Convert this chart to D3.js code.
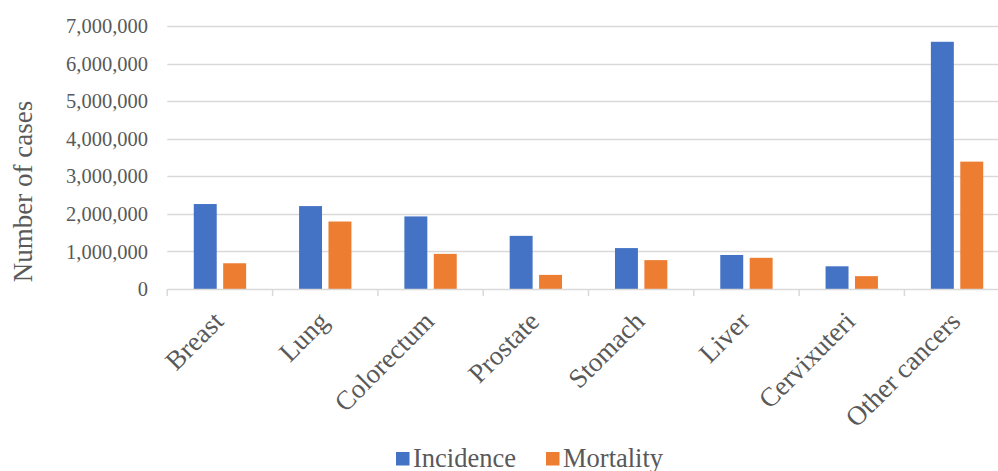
<!DOCTYPE html>
<html>
<head>
<meta charset="utf-8">
<script src="https://cdn.jsdelivr.net/npm/d3@7"></script>
<style>
  html, body { margin: 0; padding: 0; background: #fff; overflow: hidden; }
  svg { display: block; }
</style>
</head>
<body>
<svg id="chart" width="998" height="471"></svg>
<script>
// Cancer sites and their estimated new cases / deaths
const categories = ["Breast", "Lung", "Colorectum", "Prostate", "Stomach", "Liver", "Cervixuteri", "Other cancers"];
const incidence = [2261419, 2206771, 1931590, 1414259, 1089103, 905677, 604127, 6580000];
const mortality = [684996, 1796144, 935173, 375304, 768793, 830180, 341831, 3390000];
const seriesNames = ["Incidence", "Mortality"];
const seriesColors = ["#4472C4", "#ED7D31"];
const yTicks = [0, 1000000, 2000000, 3000000, 4000000, 5000000, 6000000, 7000000];

const FONT = "'Liberation Serif', 'Times New Roman', Tinos, 'DejaVu Serif', serif";
const TEXT_COLOR = "#595959";

const svg = d3.select("#chart");
const plotLeft = 167.3, step = 105.3, plotTop = 26, plotBottom = 289;

const x = d3.scaleBand().domain(categories).range([plotLeft, plotLeft + step * categories.length]).padding(0);
const xs = d3.scaleBand().domain(seriesNames).range([0, x.bandwidth()]).paddingInner(0.22).paddingOuter(0.9);
const y = d3.scaleLinear().domain([0, 7000000]).range([plotBottom, plotTop]);
const color = d3.scaleOrdinal().domain(seriesNames).range(seriesColors);

// Horizontal gridlines
svg.append("g").selectAll("line").data(yTicks.filter(d => d > 0)).join("line")
  .attr("x1", plotLeft).attr("x2", 998)
  .attr("y1", d => Math.round(y(d)) + 0.5).attr("y2", d => Math.round(y(d)) + 0.5)
  .attr("stroke", "#d9d9d9").attr("stroke-width", 1.3);

// Y tick labels
const fmt = d3.format(",");
svg.append("g").selectAll("text").data(yTicks).join("text")
  .attr("x", 148).attr("y", d => y(d)).attr("dy", "0.35em")
  .attr("text-anchor", "end")
  .attr("font-family", FONT).attr("font-size", 20.5).attr("fill", TEXT_COLOR)
  .text(d => fmt(d));

// Bars
const rows = categories.map((c, i) => ({ cat: c, vals: [incidence[i], mortality[i]] }));
const groups = svg.append("g").selectAll("g").data(rows).join("g")
  .attr("transform", d => `translate(${x(d.cat)},0)`);
groups.selectAll("rect").data(d => seriesNames.map((s, j) => ({ s, v: d.vals[j] }))).join("rect")
  .attr("x", d => xs(d.s)).attr("width", xs.bandwidth())
  .attr("y", d => y(d.v)).attr("height", d => y(0) - y(d.v))
  .attr("fill", d => color(d.s));

// X axis line and tick marks
svg.append("line").attr("x1", plotLeft).attr("x2", 998)
  .attr("y1", plotBottom + 0.5).attr("y2", plotBottom + 0.5)
  .attr("stroke", "#d9d9d9").attr("stroke-width", 1.5);
const bounds = categories.map(c => x(c)).concat([x(categories[categories.length - 1]) + x.bandwidth()]);
svg.append("g").selectAll("line").data(bounds).join("line")
  .attr("x1", d => d).attr("x2", d => d)
  .attr("y1", plotBottom).attr("y2", plotBottom + 7)
  .attr("stroke", "#d9d9d9").attr("stroke-width", 1.5);

// Category labels, rotated
svg.append("g").selectAll("text").data(categories).join("text")
  .attr("transform", d => `translate(${x(d) + x.bandwidth() / 2 + 5},${plotBottom + 34}) rotate(-45)`)
  .attr("text-anchor", "end")
  .attr("font-family", FONT).attr("font-size", 27).attr("fill", TEXT_COLOR)
  .text(d => d);

// Y axis title
svg.append("text")
  .attr("transform", `translate(32,${(98 + 285) / 2}) rotate(-90)`)
  .attr("text-anchor", "middle")
  .attr("font-family", FONT).attr("font-size", 27).attr("fill", TEXT_COLOR)
  .text("Number of cases");

// Legend
const legend = svg.append("g");
const legendX = [396, 546];
seriesNames.forEach((s, i) => {
  legend.append("rect").attr("x", legendX[i]).attr("y", 452).attr("width", 13.5).attr("height", 13.5)
    .attr("fill", color(s));
  legend.append("text").attr("x", legendX[i] + 17).attr("y", 466.5)
    .attr("font-family", FONT).attr("font-size", 26.5).attr("fill", TEXT_COLOR)
    .text(s);
});
</script>
</body>
</html>
